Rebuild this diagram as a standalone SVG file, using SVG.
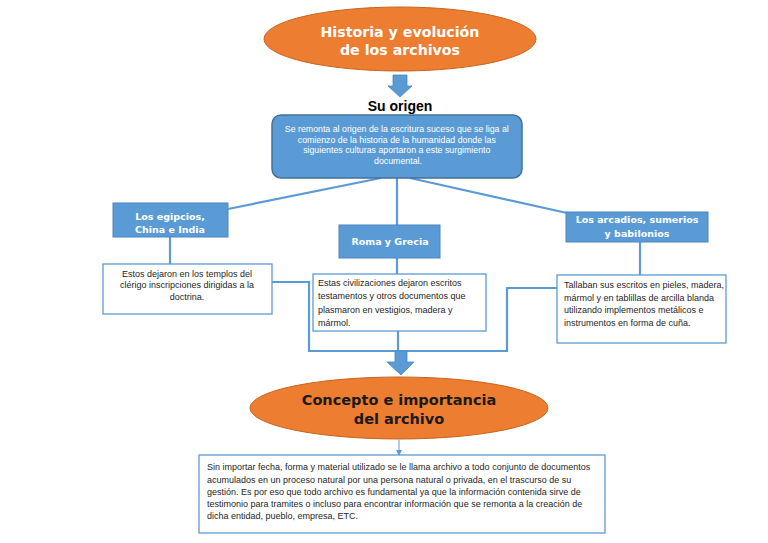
<svg xmlns="http://www.w3.org/2000/svg" width="768" height="543" viewBox="0 0 768 543">
<defs>
<style>
.ell{fill:#ED7D31;stroke:#C8651F;stroke-width:1}
.title{font-family:"DejaVu Sans",Verdana,sans-serif;font-weight:bold;text-anchor:middle}
.hdr{fill:#5B9BD5;stroke:#4A86C0;stroke-width:1}
.hdrt{font-family:"DejaVu Sans",Verdana,sans-serif;font-weight:bold;font-size:9.5px;fill:#fff;text-anchor:middle}
.tb{fill:#fff;stroke:#5B9BD5;stroke-width:1.3}
.body{font-family:"Liberation Sans",Arial,sans-serif;font-size:9px;fill:#262626}
.conn{fill:none;stroke:#5B9BD5;stroke-width:2.2}
.arr{fill:#5B9BD5;stroke:#4A86C0;stroke-width:0.8}
</style>
<marker id="sm" markerWidth="6" markerHeight="6" refX="5" refY="3" orient="auto" markerUnits="userSpaceOnUse">
<path d="M0,0 L6,3 L0,6 z" fill="#5B9BD5"/>
</marker>
</defs>
<rect width="768" height="543" fill="#fff"/>

<g id="connectors">
<line class="conn" x1="381" y1="178" x2="228" y2="209"/>
<line class="conn" x1="397" y1="178" x2="397" y2="225"/>
<line class="conn" x1="410" y1="178" x2="567" y2="213"/>
<line class="conn" x1="170" y1="237" x2="170" y2="264"/>
<line class="conn" x1="397" y1="258" x2="397" y2="274"/>
<line class="conn" x1="640" y1="242" x2="640" y2="275"/>
<polyline class="conn" points="272,282 309,282 309,351 507,351 507,288 557,288"/>
<line class="conn" x1="398" y1="331" x2="398" y2="351"/>
<path class="arr" d="M393,75 H407 V86 H412 L400,97 L388,86 H393 Z"/>
<path class="arr" d="M395,351 H407 V362 H414 L401,375 L387,362 H395 Z"/>
<line x1="399" y1="440" x2="399" y2="455" stroke="#5B9BD5" stroke-width="1" marker-end="url(#sm)"/>
</g>

<g id="n-historia">
<ellipse class="ell" cx="400" cy="39" rx="136" ry="32"/>
<text class="title" font-size="14.2" fill="#fff"><tspan x="400" y="37">Historia y evolución</tspan><tspan x="400" y="55">de los archivos</tspan></text>
</g>

<g id="n-origen">
<text x="400" y="111" font-family="Liberation Sans,Arial,sans-serif" font-weight="bold" font-size="14" text-anchor="middle" fill="#000">Su origen</text>
<rect x="272" y="115" width="250" height="63" rx="9" fill="#5B9BD5" stroke="#41719C" stroke-width="1.5"/>
<text font-family="Liberation Sans,Arial,sans-serif" font-size="8.8" fill="#fff" text-anchor="middle">
<tspan x="398" y="132">Se remonta al origen de la escritura suceso que se liga al</tspan>
<tspan x="398" y="143">comienzo de la historia de la humanidad donde las</tspan>
<tspan x="398" y="153">siguientes culturas aportaron a este surgimiento</tspan>
<tspan x="398" y="164">documental.</tspan>
</text>
</g>

<g id="n-egipcios">
<rect class="hdr" x="113" y="203" width="115" height="34"/>
<text class="hdrt"><tspan x="170" y="220">Los egipcios,</tspan><tspan x="170" y="233">China e India</tspan></text>
</g>

<g id="n-egipcios-t">
<rect class="tb" x="103" y="264" width="169" height="50"/>
<text class="body" text-anchor="middle"><tspan x="187" y="277">Estos dejaron en los templos del</tspan><tspan x="187" y="288">clérigo inscripciones dirigidas a la</tspan><tspan x="187" y="300">doctrina.</tspan></text>
</g>

<g id="n-roma">
<rect class="hdr" x="339" y="225" width="101" height="33"/>
<text class="hdrt" x="390" y="245">Roma y Grecia</text>
</g>

<g id="n-roma-t">
<rect class="tb" x="313" y="274" width="173" height="57"/>
<text class="body"><tspan x="318" y="286">Estas civilizaciones dejaron escritos</tspan><tspan x="318" y="299">testamentos y otros documentos que</tspan><tspan x="318" y="313">plasmaron en vestigios, madera y</tspan><tspan x="318" y="326">mármol.</tspan></text>
</g>

<g id="n-arcadios">
<rect class="hdr" x="566" y="212" width="142" height="30"/>
<text class="hdrt"><tspan x="637" y="223">Los arcadios, sumerios</tspan><tspan x="637" y="237">y babilonios</tspan></text>
</g>

<g id="n-arcadios-t">
<rect class="tb" x="557" y="275" width="169" height="68"/>
<text class="body"><tspan x="564" y="288">Tallaban sus escritos en pieles, madera,</tspan><tspan x="564" y="301">mármol y en tablillas de arcilla blanda</tspan><tspan x="564" y="313">utilizando implementos metálicos e</tspan><tspan x="564" y="326">instrumentos en forma de cuña.</tspan></text>
</g>

<g id="n-concepto">
<ellipse class="ell" cx="399" cy="408" rx="149" ry="31"/>
<text class="title" font-size="14.5" fill="#1a1a1a"><tspan x="399" y="405">Concepto e importancia</tspan><tspan x="399" y="424">del archivo</tspan></text>
</g>

<g id="n-concepto-t">
<rect class="tb" x="199" y="455" width="406" height="78"/>
<text class="body"><tspan x="207" y="470">Sin importar fecha, forma y material utilizado se le llama archivo a todo conjunto de documentos</tspan><tspan x="207" y="483">acumulados en un proceso natural por una persona natural o privada, en el trascurso de su</tspan><tspan x="207" y="495">gestión. Es por eso que todo archivo es fundamental ya que la información contenida sirve de</tspan><tspan x="207" y="507">testimonio para tramites o incluso para encontrar información que se remonta a la creación de</tspan><tspan x="207" y="519">dicha entidad, pueblo, empresa, ETC.</tspan></text>
</g>
</svg>
